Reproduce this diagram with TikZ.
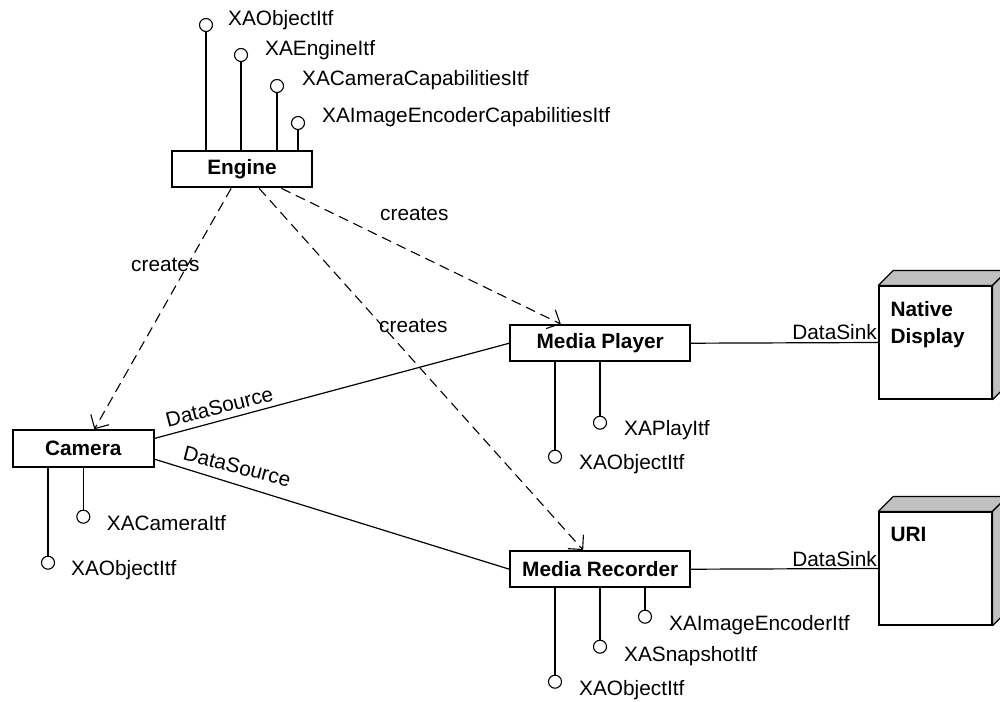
\documentclass[tikz,border=0pt]{standalone}
\usepackage{fontspec}
\setmainfont{Liberation Sans}
\usetikzlibrary{arrows.meta}
\definecolor{devgray}{HTML}{C0C0C0}
\begin{document}
\begin{tikzpicture}[x=1pt,y=-1pt,
  every node/.style={font=\fontsize{20.8}{25}\selectfont},
  comp/.style={draw, line width=2pt, inner sep=0pt,
    font=\fontsize{20.8}{25}\selectfont\bfseries},
  lolli/.style={circle, draw, line width=1.1pt, minimum size=13pt, inner sep=0pt},
  itf/.style={anchor=base west, inner sep=0pt},
  link/.style={line width=1.2pt},
  creates/.style={line width=1.1pt, dash pattern=on 10pt off 6pt,
    -{Straight Barb[length=10.5pt,width=21pt]}},
  device/.style={draw, line width=1.2pt, minimum size=113pt, inner sep=0pt, fill=white},
  face/.style={draw, line width=1.2pt, fill=devgray, line join=round},
  devlabel/.style={anchor=north west, align=left, inner sep=0pt,
    font=\fontsize{20.8}{26.7}\selectfont\bfseries},
]
\useasboundingbox (0,0) rectangle (1000,701);
\clip (0,0) rectangle (1000,701);

% components
\node[comp, minimum width=140.6pt, minimum height=36.3pt] (engine)   at (242,169.2) {Engine};
\node[comp, minimum width=141.3pt, minimum height=37pt]   (camera)   at (83.3,448.8) {Camera};
\node[comp, minimum width=179.7pt, minimum height=36.3pt] (player)   at (600.2,343.2) {Media Player};
\node[comp, minimum width=179.7pt, minimum height=36.3pt] (recorder) at (600.2,569.2) {Media Recorder};

% devices (3D boxes)
\node[device] (display) at (935.5,342.5) {};
\draw[face] (display.north west) -- ([shift={(15,-15)}]display.north west)
  -- ([shift={(15,-15)}]display.north east) -- (display.north east) -- cycle;
\draw[face] (display.north east) -- ([shift={(15,-15)}]display.north east)
  -- ([shift={(15,-15)}]display.south east) -- (display.south east) -- cycle;
\node[devlabel] (displaytext) at ([shift={(12,15.7)}]display.north west) {Native\\Display};

\node[device] (uri) at (935.5,568.5) {};
\draw[face] (uri.north west) -- ([shift={(15,-15)}]uri.north west)
  -- ([shift={(15,-15)}]uri.north east) -- (uri.north east) -- cycle;
\draw[face] (uri.north east) -- ([shift={(15,-15)}]uri.north east)
  -- ([shift={(15,-15)}]uri.south east) -- (uri.south east) -- cycle;
\node[devlabel] (uritext) at ([shift={(12,15.3)}]uri.north west) {URI};

% engine interfaces
\node[lolli] (e1) at (206,25) {};
\node[lolli] (e2) at (241,55) {};
\node[lolli] (e3) at (277,86) {};
\node[lolli] (e4) at (298,123) {};
\foreach \i in {e1,e2,e3,e4} \draw[link] (\i) -- (\i |- engine.north);
\node[itf] (e1t) at (228,25.7)  {XAObjectItf};
\node[itf] (e2t) at (265,55.7)  {XAEngineItf};
\node[itf] (e3t) at (302,85.7)  {XACameraCapabilitiesItf};
\node[itf] (e4t) at (322,122.7) {XAImageEncoderCapabilitiesItf};

% camera interfaces
\node[lolli] (c1) at (48,562.7) {};
\node[lolli] (c2) at (83.3,516.7) {};
\foreach \i in {c1,c2} \draw[link] (\i) -- (\i |- camera.south);
\node[itf] (c1t) at (71,575.7)  {XAObjectItf};
\node[itf] (c2t) at (106.7,530) {XACameraItf};

% media player interfaces
\node[lolli] (p1) at (555,456.7) {};
\node[lolli] (p2) at (600,422.7) {};
\foreach \i in {p1,p2} \draw[link] (\i) -- (\i |- player.south);
\node[itf] (p1t) at (579,469.3) {XAObjectItf};
\node[itf] (p2t) at (624,435)   {XAPlayItf};

% media recorder interfaces
\node[lolli] (r1) at (555,681.7) {};
\node[lolli] (r2) at (600,646.7) {};
\node[lolli] (r3) at (645,616.7) {};
\foreach \i in {r1,r2,r3} \draw[link] (\i) -- (\i |- recorder.south);
\node[itf] (r1t) at (579,695)   {XAObjectItf};
\node[itf] (r2t) at (624,661.7) {XASnapshotItf};
\node[itf] (r3t) at (669,630.7) {XAImageEncoderItf};

% data flow
\draw[link] ([yshift=10.5pt]camera.east) -- (player.west);
\draw[link] ([yshift=-10.5pt]camera.east) -- (recorder.west);
\draw[link] (player.east) -- (display.west);
\draw[link] (recorder.east) -- (uri.west);
\node[anchor=base, inner sep=0pt, rotate=14.3]  (ds1) at (221.2,413.7) {DataSource};
\node[anchor=base, inner sep=0pt, rotate=-14.5] (ds2) at (235.3,473.3) {DataSource};
\node[anchor=base east, inner sep=0pt] (sink1) at (877,339)   {DataSink};
\node[anchor=base east, inner sep=0pt] (sink2) at (877,566.3) {DataSink};

% creation dependencies
\draw[creates] (engine) -- (camera);
\draw[creates] (engine) -- (player);
\draw[creates] (engine) -- (recorder);
\node[anchor=base west, inner sep=0pt] (cr1) at (131,271.7) {creates};
\node[anchor=base west, inner sep=0pt] (cr2) at (380,220)   {creates};
\node[anchor=base west, inner sep=0pt] (cr3) at (379,332.7) {creates};
\end{tikzpicture}
\end{document}
